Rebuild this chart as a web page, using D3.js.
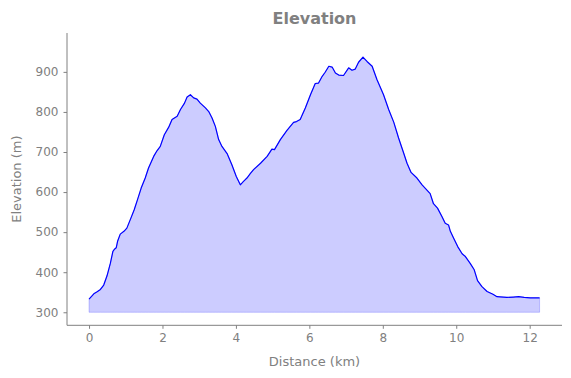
<!DOCTYPE html>
<html>
<head>
<meta charset="utf-8">
<script src="https://cdn.jsdelivr.net/npm/d3@7"></script>
<style>
  body { margin: 0; background: #fff; }
  svg { display: block; font-family: "DejaVu Sans", sans-serif; }
</style>
</head>
<body>
<div id="d3-container"></div>
<script>
// distance (km) and elevation (m)
const distance = [0.00, 0.05, 0.13, 0.22, 0.31, 0.40, 0.49, 0.58, 0.65, 0.70, 0.74, 0.78, 0.85, 0.95, 1.03,
  1.14, 1.23, 1.32, 1.42, 1.53, 1.62, 1.76, 1.85, 1.94, 2.05, 2.17, 2.26, 2.40, 2.49, 2.60, 2.67, 2.76,
  2.85, 2.94, 3.03, 3.17, 3.26, 3.35, 3.44, 3.53, 3.62, 3.76, 3.89, 4.01, 4.12, 4.20, 4.30, 4.39, 4.48,
  4.67, 4.85, 4.98, 5.05, 5.21, 5.39, 5.57, 5.65, 5.75, 5.89, 6.03, 6.16, 6.25, 6.35, 6.43, 6.53, 6.62,
  6.71, 6.80, 6.93, 7.07, 7.16, 7.25, 7.34, 7.46, 7.57, 7.71, 7.84, 8.02, 8.16, 8.30, 8.43, 8.57, 8.66,
  8.77, 8.93, 9.07, 9.29, 9.38, 9.49, 9.61, 9.70, 9.79, 9.84, 9.93, 10.04, 10.16, 10.25, 10.38, 10.49,
  10.58, 10.70, 10.84, 11.00, 11.11, 11.38, 11.55, 11.70, 11.85, 12.02, 12.27];
const elevation = [333, 338, 346, 351, 357, 368, 391, 422, 452, 458, 461, 478, 495, 502, 510,
  535, 556, 581, 610, 635, 660, 689, 703, 714, 743, 762, 781, 789, 806, 822, 837, 843,
  835, 832, 822, 810, 801, 785, 764, 731, 714, 696, 668, 639, 618, 626, 635, 646, 656,
  672, 689, 707, 706, 731, 754, 774, 776, 781, 810, 843, 871, 872, 889, 899, 914, 912,
  897, 892, 891, 910, 904, 907, 924, 937, 926, 914, 881, 843, 806, 774, 735, 697, 672,
  649, 635, 618, 596, 571, 560, 539, 522, 518, 502, 485, 464, 446, 439, 422, 406,
  379, 364, 352, 345, 339, 337, 338, 339, 337, 336, 336];
const baseElevation = 300;
const xTicks = [0, 2, 4, 6, 8, 10, 12];
const yTicks = [300, 400, 500, 600, 700, 800, 900];

const width = 571;
const height = 378;
const margin = { top: 33, right: 9, bottom: 52.7, left: 67 };
const grey = "#808080";

const data = distance.map((d, i) => ({ km: d, m: elevation[i] }));

const svg = d3.select("#d3-container")
  .append("svg")
  .attr("width", width)
  .attr("height", height);

const x = d3.scaleLinear()
  .domain([-0.6, 12.88])
  .range([margin.left, width - margin.right]);

const y = d3.scaleLinear()
  .domain([267.5, 997])
  .range([height - margin.bottom, margin.top]);

const area = d3.area()
  .x(d => x(d.km))
  .y0(y(baseElevation))
  .y1(d => y(d.m));

const line = d3.line()
  .x(d => x(d.km))
  .y(d => y(d.m));

svg.append("path")
  .datum(data)
  .attr("d", area)
  .attr("fill", "blue")
  .attr("fill-opacity", 0.2)
  .attr("stroke", "blue")
  .attr("stroke-opacity", 0.2)
  .attr("stroke-width", 1);

svg.append("path")
  .datum(data)
  .attr("d", line)
  .attr("fill", "none")
  .attr("stroke", "blue")
  .attr("stroke-width", 1.2)
  .attr("stroke-linejoin", "round");

function xAxis(g) {
  g.attr("transform", `translate(0,${height - margin.bottom})`)
    .call(d3.axisBottom(x).tickValues(xTicks).tickSize(3.5).tickPadding(5).tickFormat(d3.format("d")))
    .attr("font-size", "12px")
    .attr("font-family", "DejaVu Sans, sans-serif");
  g.select(".domain").attr("stroke", grey).attr("d", `M${margin.left},0H${width - margin.right}`);
  g.selectAll(".tick line").attr("stroke", grey);
  g.selectAll(".tick text").attr("fill", grey);
}

function yAxis(g) {
  g.attr("transform", `translate(${margin.left},0)`)
    .call(d3.axisLeft(y).tickValues(yTicks).tickSize(3.5).tickPadding(5).tickFormat(d3.format("d")))
    .attr("font-size", "12px")
    .attr("font-family", "DejaVu Sans, sans-serif");
  g.select(".domain").attr("stroke", grey).attr("d", `M0,${margin.top}V${height - margin.bottom}`);
  g.selectAll(".tick line").attr("stroke", grey);
  g.selectAll(".tick text").attr("fill", grey);
}

svg.append("g").call(xAxis);
svg.append("g").call(yAxis);

const cx = (margin.left + width - margin.right) / 2;

svg.append("text")
  .attr("x", cx)
  .attr("y", 24)
  .attr("text-anchor", "middle")
  .attr("font-size", "16px")
  .attr("font-weight", "bold")
  .attr("fill", grey)
  .text("Elevation");

svg.append("text")
  .attr("x", cx)
  .attr("y", 366)
  .attr("text-anchor", "middle")
  .attr("font-size", "13px")
  .attr("fill", grey)
  .text("Distance (km)");

svg.append("text")
  .attr("transform", `translate(21,${(margin.top + height - margin.bottom) / 2}) rotate(-90)`)
  .attr("text-anchor", "middle")
  .attr("font-size", "13px")
  .attr("fill", grey)
  .text("Elevation (m)");
</script>
</body>
</html>
